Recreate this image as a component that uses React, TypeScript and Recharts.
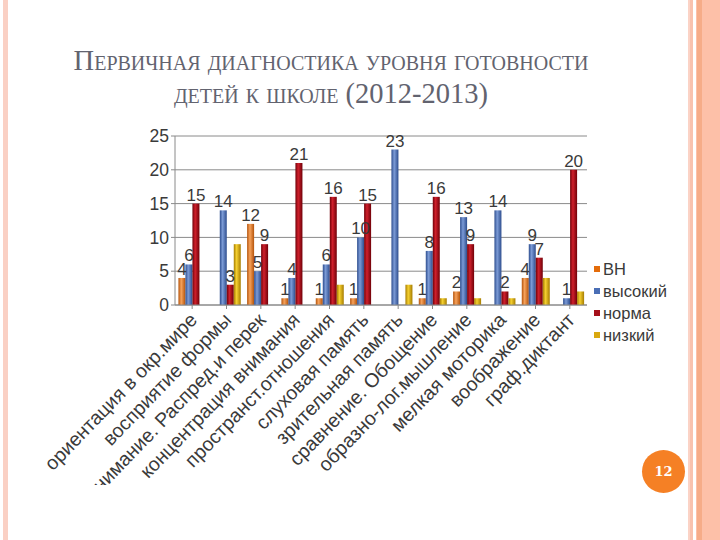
import React from 'react';
import { BarChart, Bar, XAxis, YAxis, CartesianGrid, Legend, LabelList } from 'recharts';

// данные диагностики (2012-2013)
const categories = [
  'ориентация в окр.мире',
  'восприятие формы',
  'внимание. Распред.и перек',
  'концентрация внимания',
  'пространст.отношения',
  'слуховая память',
  'зрительная память',
  'сравнение. Обощение',
  'образно-лог.мышление',
  'мелкая моторика',
  'воображение',
  'граф.диктант',
];
const vn = [4, 0, 12, 1, 1, 1, 0, 1, 2, 0, 4, 0];
const vysokiy = [6, 14, 5, 4, 6, 10, 23, 8, 13, 14, 9, 1];
const norma = [15, 3, 9, 21, 16, 15, 0, 16, 9, 2, 7, 20];
const nizkiy = [0, 9, 0, 0, 3, 0, 3, 1, 1, 1, 4, 2];
const yTicks = [0, 5, 10, 15, 20, 25];

const data = categories.map((name, i) => ({
  name,
  vn: vn[i],
  vysokiy: vysokiy[i],
  norma: norma[i],
  nizkiy: nizkiy[i],
}));

const SERIES = [
  { key: 'vn', name: 'ВН', color: '#E46C0A', light: '#F7A35C', dark: '#B4530A', labels: true },
  { key: 'vysokiy', name: 'высокий', color: '#4A6EB5', light: '#7C9BD6', dark: '#2D4D8E', labels: true },
  { key: 'norma', name: 'норма', color: '#A5101A', light: '#D0202C', dark: '#700008', labels: true },
  { key: 'nizkiy', name: 'низкий', color: '#D9A80F', light: '#F5D030', dark: '#A67C00', labels: false },
];

const FONT = '"Liberation Sans", Arial, sans-serif';

const XTick = (props: any) => {
  const { x, y, payload } = props;
  return (
    <g transform={`translate(${x + 6},${y + 10})`}>
      <text transform="rotate(-46)" textAnchor="end" fontSize={19.5} fill="#3a3a3a" fontFamily={FONT}>
        {payload.value}
      </text>
    </g>
  );
};

const renderLabel = (props: any) => {
  const { x, y, width, value } = props;
  if (!value) return null;
  return (
    <text x={x + width / 2} y={y - 3} textAnchor="middle" fontSize={17} fill="#3a3a3a" fontFamily={FONT}>
      {value}
    </text>
  );
};

const LegendBox = () => (
  <div style={{ fontFamily: FONT, fontSize: 16.5, color: '#3a3a3a', lineHeight: '22px' }}>
    {SERIES.map((s) => (
      <div key={s.key} style={{ display: 'flex', alignItems: 'center' }}>
        <span style={{ width: 6, height: 6, background: s.color, marginRight: 3, display: 'inline-block' }} />
        {s.name}
      </div>
    ))}
  </div>
);

export default function App() {
  return (
    <div style={{ position: 'absolute', left: 0, top: 0, width: 720, height: 540, background: '#fff', overflow: 'hidden' }}>
      {/* рамка слайда */}
      <div style={{ position: 'absolute', left: 3, top: 0, width: 5, height: 540, background: '#FAD0C4' }} />
      <div style={{ position: 'absolute', left: 688, top: 0, width: 2, height: 540, background: '#FBD3C6' }} />
      <div style={{ position: 'absolute', left: 690, top: 0, width: 3, height: 540, background: '#F9C2AE' }} />
      <div style={{ position: 'absolute', left: 696, top: 0, width: 24, height: 540, background: '#FDC0A8' }} />
      <div style={{ position: 'absolute', left: 697, top: 0, width: 5, height: 540, background: '#F6AC88' }} />

      <div
        style={{
          position: 'absolute', left: 0, top: 44, width: 662, textAlign: 'center',
          fontFamily: '"Liberation Serif", "DejaVu Serif", serif', fontVariant: 'small-caps',
          fontSize: 28.5, color: '#62636F', lineHeight: '33px',
        }}
      >
        Первичная диагностика уровня готовности
        <br />
        детей к школе (2012-2013)
      </div>

      <div style={{ position: 'absolute', left: 0, top: 0 }}>
        <BarChart
          width={720}
          height={485}
          data={data}
          margin={{ top: 136, right: 133, left: 130, bottom: 0 }}
          barCategoryGap="10%"
          barGap={0}
        >
          <defs>
            {SERIES.map((s) => (
              <linearGradient key={s.key} id={`g-${s.key}`} x1="0" y1="0" x2="1" y2="0">
                <stop offset="0%" stopColor={s.dark} />
                <stop offset="40%" stopColor={s.light} />
                <stop offset="100%" stopColor={s.dark} />
              </linearGradient>
            ))}
          </defs>
          <CartesianGrid vertical={false} stroke="#8a8a8a" />
          <XAxis
            dataKey="name"
            interval={0}
            height={180}
            tick={<XTick />}
            stroke="#8a8a8a"
            tickSize={4}
          />
          <YAxis
            width={45}
            domain={[0, 25]}
            ticks={yTicks}
            stroke="#8a8a8a"
            tickSize={4}
            tick={{ fontSize: 17.5, fill: '#3a3a3a', fontFamily: FONT }}
          />
          <Legend
            layout="vertical"
            align="center"
            verticalAlign="middle"
            wrapperStyle={{ left: 594, top: 258, width: 110 }}
            content={<LegendBox />}
          />
          {SERIES.map((s) => (
            <Bar key={s.key} dataKey={s.key} name={s.name} fill={`url(#g-${s.key})`} isAnimationActive={false}>
              {s.labels && <LabelList dataKey={s.key} content={renderLabel} />}
            </Bar>
          ))}
        </BarChart>
      </div>

      {/* номер слайда */}
      <div
        style={{
          position: 'absolute', left: 642, top: 450, width: 43, height: 43, borderRadius: '50%',
          background: '#F58025', color: '#fff', fontFamily: '"DejaVu Serif", serif', fontWeight: 'bold',
          fontSize: 13, display: 'flex', alignItems: 'center', justifyContent: 'center',
        }}
      >
        12
      </div>
    </div>
  );
}
